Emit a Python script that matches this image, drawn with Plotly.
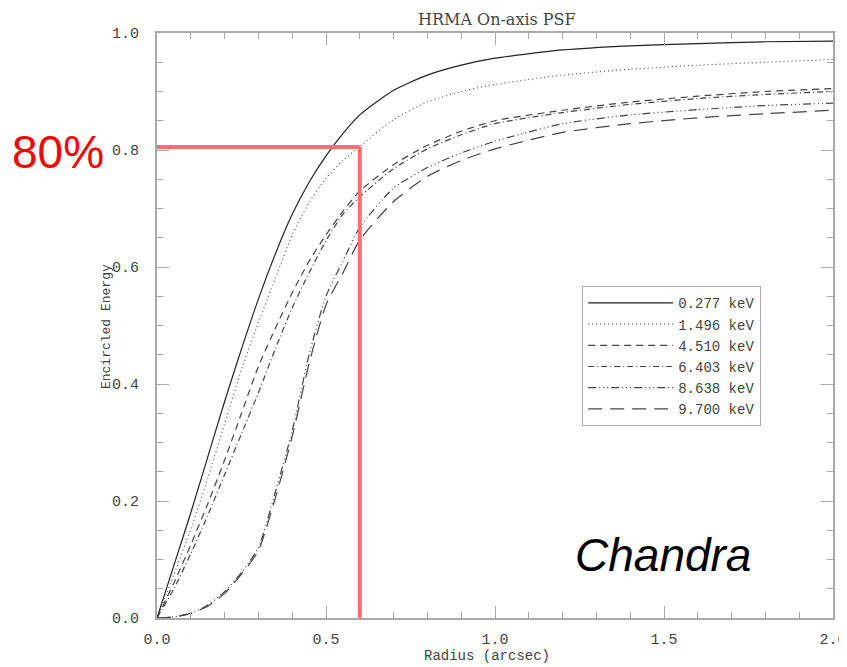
import plotly.graph_objects as go

# ---- data ----
radius = [0, 0.05, 0.1, 0.15, 0.2, 0.25, 0.3, 0.35, 0.4, 0.45, 0.5, 0.55, 0.6,
          0.7, 0.8, 0.9, 1.0, 1.2, 1.4, 1.6, 1.8, 2.0]

ee_0277 = [0, 0.09, 0.18, 0.275, 0.37, 0.46, 0.545, 0.622, 0.69, 0.745, 0.79, 0.828, 0.86,
           0.902, 0.928, 0.945, 0.957, 0.971, 0.978, 0.982, 0.985, 0.986]
ee_1496 = [0, 0.074, 0.152, 0.238, 0.332, 0.425, 0.505, 0.58, 0.655, 0.71, 0.752, 0.782, 0.806,
           0.852, 0.882, 0.9, 0.912, 0.928, 0.938, 0.945, 0.950, 0.955]
ee_4510 = [0, 0.06, 0.125, 0.195, 0.27, 0.35, 0.43, 0.495, 0.556, 0.61, 0.655, 0.695, 0.73,
           0.775, 0.808, 0.832, 0.85, 0.868, 0.882, 0.892, 0.9, 0.905]
ee_6403 = [0, 0.05, 0.11, 0.175, 0.245, 0.315, 0.385, 0.46, 0.53, 0.59, 0.645, 0.69, 0.72,
           0.768, 0.802, 0.826, 0.845, 0.864, 0.878, 0.888, 0.895, 0.9]
ee_8638 = [0, 0.002, 0.008, 0.022, 0.045, 0.078, 0.12, 0.215, 0.32, 0.45, 0.55, 0.61, 0.668,
           0.735, 0.77, 0.795, 0.815, 0.845, 0.86, 0.869, 0.876, 0.88]
ee_9700 = [0, 0.002, 0.008, 0.02, 0.042, 0.075, 0.115, 0.205, 0.31, 0.435, 0.535, 0.59, 0.646,
           0.712, 0.755, 0.782, 0.802, 0.83, 0.845, 0.855, 0.862, 0.868]

series_names = ["0.277 keV", "1.496 keV", "4.510 keV", "6.403 keV", "8.638 keV", "9.700 keV"]
series_values = [ee_0277, ee_1496, ee_4510, ee_6403, ee_8638, ee_9700]

x_tickvals = [0.0, 0.5, 1.0, 1.5, 2.0]
y_tickvals = [0.0, 0.2, 0.4, 0.6, 0.8, 1.0]

r80 = 0.6        # radius enclosing 80 %
ee80 = 0.805     # 80 % level marker

# ---- styles ----
dashes = ["solid", "1px,3px", "7px,5px", "6px,3px,1px,3px",
          "8px,3px,1px,3px,1px,3px,1px,3px", "14px,8px"]
colors = ["#222222", "#555555", "#444444", "#444444", "#444444", "#444444"]

fig = go.Figure()
for name, vals, d, c in zip(series_names, series_values, dashes, colors):
    fig.add_trace(go.Scatter(x=radius, y=vals, mode="lines", name=name,
                             line=dict(color=c, width=1.2, dash=d, shape="spline", smoothing=0.6)))

red = "#ff6f6f"
fig.add_shape(type="line", x0=0, x1=r80, y0=ee80, y1=ee80, xref="x", yref="y",
              line=dict(color=red, width=4), layer="above")
fig.add_shape(type="line", x0=r80, x1=r80, y0=0, y1=ee80, xref="x", yref="y",
              line=dict(color=red, width=4), layer="above")

fig.add_annotation(text="80%", xref="paper", yref="paper", x=-0.1464, y=0.797,
                   xanchor="center", yanchor="middle", showarrow=False,
                   font=dict(family="Liberation Sans", size=46, color="#ff0000"))
fig.add_annotation(text="<i>Chandra</i>", xref="paper", yref="paper", x=0.7485, y=0.1077,
                   xanchor="center", yanchor="middle", showarrow=False,
                   font=dict(family="Liberation Sans", size=46, color="#000000"))

# title and axis titles
fig.add_annotation(text="HRMA On-axis PSF", xref="paper", yref="paper", x=0.503, y=1.0239,
                   xanchor="center", yanchor="middle", showarrow=False,
                   font=dict(family="DejaVu Serif", size=16, color="#444444"))
fig.add_annotation(text="Radius (arcsec)", xref="paper", yref="paper", x=0.4882, y=-0.0650,
                   xanchor="center", yanchor="middle", showarrow=False,
                   font=dict(family="Liberation Mono", size=14, color="#444444"))
fig.add_annotation(text="Encircled Energy", xref="paper", yref="paper", x=-0.0755, y=0.499,
                   xanchor="center", yanchor="middle", showarrow=False, textangle=-90,
                   font=dict(family="Liberation Mono", size=13, color="#444444"))

axis_common = dict(showline=True, linecolor="#aaaaaa", linewidth=2, mirror="ticks",
                   ticks="inside", tickcolor="#aaaaaa", tickwidth=1, ticklen=12,
                   showgrid=False, zeroline=False,
                   tickfont=dict(family="Liberation Mono", size=15, color="#444444"))

fig.update_xaxes(range=[0, 2.0], tickvals=x_tickvals, tickformat=".1f",
                 minor=dict(dtick=0.1, ticks="inside", ticklen=6, tickcolor="#aaaaaa", showgrid=False),
                 ticklabelstandoff=6, **axis_common)
fig.update_yaxes(range=[0, 1.0], tickvals=y_tickvals, tickformat=".1f",
                 minor=dict(dtick=0.05, ticks="inside", ticklen=6, tickcolor="#aaaaaa", showgrid=False),
                 ticklabelstandoff=13, **axis_common)

fig.update_layout(
    width=839, height=659,
    margin=dict(l=149, r=14, t=25, b=49, autoexpand=False),
    paper_bgcolor="white", plot_bgcolor="white",
    showlegend=True,
    legend=dict(x=0.629, y=0.567, xanchor="left", yanchor="top",
                bgcolor="white", bordercolor="#aaaaaa", borderwidth=1,
                itemwidth=85, tracegroupgap=0,
                font=dict(family="Liberation Mono", size=14, color="#444444")),
)

fig.write_html("out.html")
